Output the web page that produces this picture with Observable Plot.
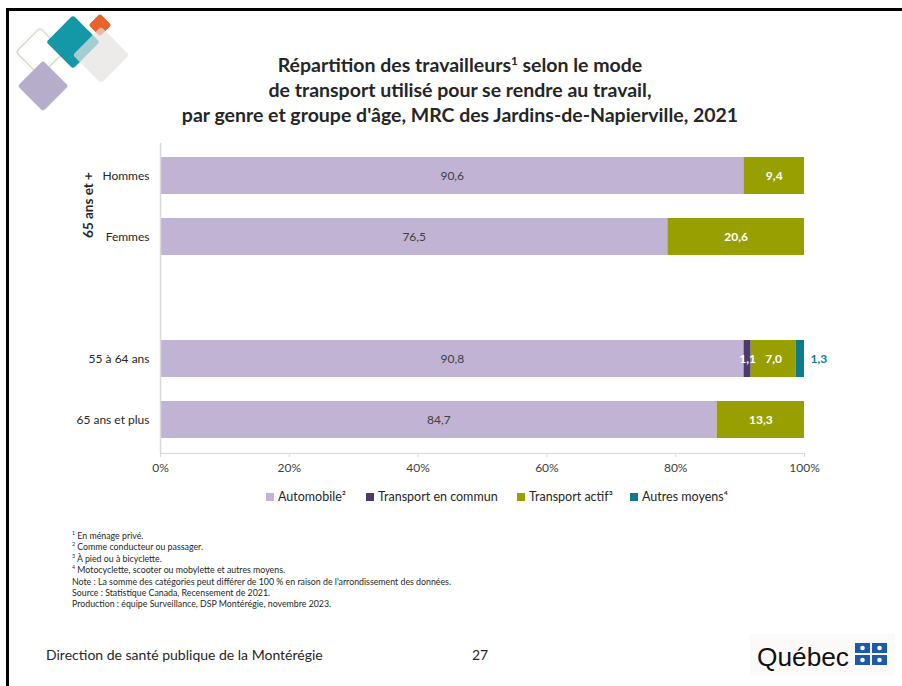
<!DOCTYPE html>
<html><head><meta charset="utf-8">
<script src="https://cdn.jsdelivr.net/npm/d3@7"></script>
<script src="https://cdn.jsdelivr.net/npm/@observablehq/plot@0.6"></script>
<style>
html,body{margin:0;padding:0;background:#fff;}
body{width:902px;height:686px;position:relative;overflow:hidden;font-family:Lato,"Open Sans",sans-serif;color:#262626;}
#border{position:absolute;left:6px;top:8px;width:920px;height:700px;border:3px solid #000;box-sizing:border-box;}
#title{position:absolute;left:0;width:920px;top:52px;text-align:center;font-weight:700;font-size:19.5px;line-height:25px;color:#262626;}
#chart{position:absolute;left:0;top:130px;}
#group{position:absolute;left:88px;top:205px;transform:translate(-50%,-50%) rotate(-90deg);font-weight:700;font-size:13.5px;white-space:nowrap;}
#legend{position:absolute;top:489px;left:0;width:902px;height:20px;font-size:12.5px;white-space:nowrap;}
#legend .it{position:absolute;top:0;display:flex;align-items:center;}
#legend .sw{width:8px;height:8px;margin-right:4px;}
#notes{position:absolute;left:72px;top:530px;font-size:8.8px;line-height:11.4px;color:#262626;}
#footer{position:absolute;left:46px;top:646px;font-size:14px;}
#page{position:absolute;left:472px;top:646px;font-size:14px;}
#logo{position:absolute;left:750px;top:634px;}
sup{font-size:0.6em;line-height:0;}
</style></head>
<body>
<div id="border"></div>
<svg style="position:absolute;left:0;top:0" width="150" height="120">
  <rect x="-17" y="-17" width="34" height="34" rx="3" transform="translate(40,52) rotate(45)" fill="none" stroke="#d7dccc" stroke-width="1.5"/>
  <rect x="-18" y="-18" width="36" height="36" rx="3" transform="translate(43,86) rotate(45)" fill="#b5adc9"/>
  <rect x="-19" y="-19" width="38" height="38" rx="3" transform="translate(73,42) rotate(45)" fill="#1497a7"/>
  <rect x="-8" y="-8" width="16" height="16" rx="2" transform="translate(100,25) rotate(45)" fill="#e8622a"/>
  <rect x="-20" y="-20" width="40" height="40" rx="3" transform="translate(101,55) rotate(45)" fill="#e6e3e1" fill-opacity="0.7"/>
</svg>
<div id="title">Répartition des travailleurs<sup>1</sup> selon le mode<br>de transport utilisé pour se rendre au travail,<br>par genre et groupe d'âge, MRC des Jardins-de-Napierville, 2021</div>
<div id="chart"></div>
<div id="group">65 ans et +</div>
<div id="legend"></div>
<div id="notes">
<div><sup>1</sup> En ménage privé.</div>
<div><sup>2</sup> Comme conducteur ou passager.</div>
<div><sup>3</sup> À pied ou à bicyclette.</div>
<div><sup>4</sup> Motocyclette, scooter ou mobylette et autres moyens.</div>
<div>Note : La somme des catégories peut différer de 100 % en raison de l'arrondissement des données.</div>
<div>Source : Statistique Canada, Recensement de 2021.</div>
<div>Production : équipe Surveillance, DSP Montérégie, novembre 2023.</div>
</div>
<div id="footer">Direction de santé publique de la Montérégie</div>
<div id="page">27</div>
<div id="logo">
<svg width="145" height="42">
  <rect x="0" y="0" width="145" height="42" fill="#fbfaf8"/>
  <text x="7" y="32" font-family="'Liberation Sans',sans-serif" font-size="26" textLength="92" lengthAdjust="spacingAndGlyphs" fill="#111">Québec</text>
  <g fill="#1d5ba8">
    <rect x="105" y="9" width="15" height="10"/><rect x="122" y="9" width="15" height="10"/>
    <rect x="105" y="21" width="15" height="10"/><rect x="122" y="21" width="15" height="10"/>
  </g>
  <g fill="#fff">
    <circle cx="112.5" cy="14" r="2.3"/><circle cx="129.5" cy="14" r="2.3"/>
    <circle cx="112.5" cy="26" r="2.3"/><circle cx="129.5" cy="26" r="2.3"/>
  </g>
</svg>
</div>
<script>
const categories = ["Hommes", "Femmes", " ", "55 à 64 ans", "65 ans et plus"];
const modes = ["Automobile", "Transport en commun", "Transport actif", "Autres moyens"];
const legendLabels = ["Automobile²", "Transport en commun", "Transport actif³", "Autres moyens⁴"];
const colors = ["#c0b3d3", "#4b3b6b", "#97a000", "#0f7b8a"];
const automobile = [90.6, 76.5, null, 90.8, 84.7];
const transportCommun = [null, null, null, 1.1, null];
const transportActif = [9.4, 20.6, null, 7.0, 13.3];
const autresMoyens = [null, null, null, 1.3, null];
const xTicks = [0, 0.2, 0.4, 0.6, 0.8, 1];

const series = [automobile, transportCommun, transportActif, autresMoyens];
const data = [];
categories.forEach((c, i) => series.forEach((s, j) => {
  if (s[i] != null) data.push({cat: c, mode: modes[j], value: s[i]});
}));
const fmt = v => v.toFixed(1).replace(".", ",");
const stackOpts = {x: "value", y: "cat", z: "mode", order: modes, offset: "normalize"};

const plot = Plot.plot({
  width: 902, height: 353,
  marginLeft: 160, marginRight: 98, marginTop: 13, marginBottom: 30,
  style: {fontFamily: "Lato, 'Open Sans', sans-serif", fontSize: "12px", color: "#262626", background: "transparent"},
  x: {domain: [0, 1], ticks: xTicks, tickFormat: d => Math.round(d * 100) + "%", label: null},
  y: {domain: categories, paddingInner: 0.39, paddingOuter: 0.2, label: null},
  color: {domain: modes, range: colors},
  marks: [
    Plot.barX(data, Plot.stackX({...stackOpts, fill: "mode"})),
    Plot.text(data, Plot.stackX({...stackOpts, text: d => d.mode === "Automobile" ? fmt(d.value) : "", fill: "#404040", fontSize: 12})),
    Plot.text(data, Plot.stackX({...stackOpts, text: d => (d.mode === "Automobile" || d.mode === "Autres moyens") ? "" : fmt(d.value), fill: "white", fontWeight: "bold", fontSize: 12})),
    Plot.text(data, Plot.stackX2({...stackOpts, text: d => d.mode === "Autres moyens" ? fmt(d.value) : "", fill: "#0f7b8a", fontWeight: "bold", fontSize: 12, textAnchor: "start", dx: 6})),
    Plot.ruleX([0], {stroke: "#d9d9d9", strokeWidth: 1.5}),
    Plot.frame({anchor: "bottom", stroke: "#d9d9d9"}),
    Plot.axisX({ticks: xTicks, tickFormat: d => Math.round(d * 100) + "%", tickSize: 4, tickPadding: 6, stroke: "#d9d9d9", fontSize: 12, color: "#404040"}),
    Plot.axisY({tickSize: 0, tickPadding: 11, fontSize: 12})
  ]
});
document.getElementById("chart").appendChild(plot);

const lg = document.getElementById("legend");
const legendX = [266, 366, 517, 630];
legendLabels.forEach((l, i) => {
  const it = document.createElement("div");
  it.className = "it";
  it.style.left = legendX[i] + "px";
  it.innerHTML = `<div class="sw" style="background:${colors[i]}"></div><span>${l}</span>`;
  lg.appendChild(it);
});
</script>
</body></html>
